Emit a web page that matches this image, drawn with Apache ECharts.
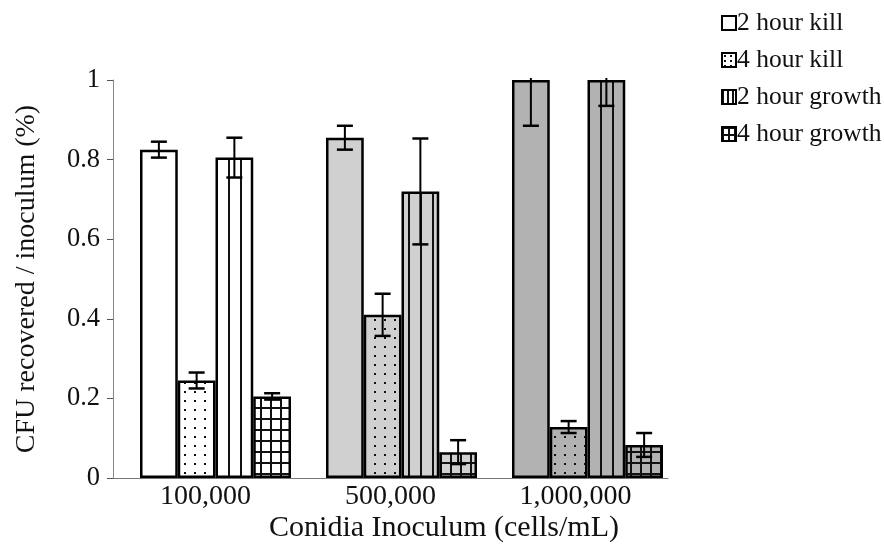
<!DOCTYPE html>
<html>
<head>
<meta charset="utf-8">
<script src="https://cdn.jsdelivr.net/npm/echarts@6/dist/echarts.min.js"></script>
<style>
  html, body { margin: 0; padding: 0; background: #fff; }
  #chart { width: 884px; height: 549px; }
</style>
</head>
<body>
<div id="chart"></div>
<script>
// Inoculum sizes on the category axis
const categories = ['100,000', '500,000', '1,000,000'];

// Fraction of CFU recovered per inoculum, with standard errors
const kill2h = [0.825, 0.855, 1.0];
const kill2hErr = [0.02, 0.03, 0.115];
const kill4h = [0.245, 0.41, 0.128];
const kill4hErr = [0.02, 0.053, 0.015];
const growth2h = [0.805, 0.72, 1.0];
const growth2hErr = [0.05, 0.133, 0.065];
const growth4h = [0.205, 0.065, 0.083];
const growth4hErr = [0.008, 0.03, 0.03];

const seriesNames = ['2 hour kill', '4 hour kill', '2 hour growth', '4 hour growth'];
const yTicks = [0, 0.2, 0.4, 0.6, 0.8, 1];

// Background shade used for each inoculum group
const groupShade = ['#ffffff', '#d0d0d0', '#b2b2b2'];
const FONT = '"Liberation Serif", "DejaVu Serif", serif';
const BAR_W = 37.75;
const BORDER = 2.5;

function pattern(kind, bg, step) {
  if (kind === 'plain') return bg;
  const s = step || 1;
  const c = document.createElement('canvas');
  const ctx = c.getContext('2d');
  if (kind === 'dots') {
    c.width = Math.round(10 * s); c.height = Math.round(9 * s);
    ctx.fillStyle = bg; ctx.fillRect(0, 0, c.width, c.height);
    ctx.fillStyle = '#111';
    ctx.fillRect(Math.round(4 * s), Math.round(4 * s), 2, 2);
  } else if (kind === 'vlines') {
    c.width = Math.round(12 * s); c.height = 4;
    ctx.fillStyle = bg; ctx.fillRect(0, 0, c.width, 4);
    ctx.fillStyle = '#111';
    ctx.fillRect(0, 0, 2, 4);
  } else if (kind === 'grid') {
    c.width = Math.round(10 * s); c.height = Math.round(11 * s);
    ctx.fillStyle = bg; ctx.fillRect(0, 0, c.width, c.height);
    ctx.fillStyle = '#111';
    ctx.fillRect(0, 0, 2, c.height);
    ctx.fillRect(0, 0, c.width, 2);
  }
  return { image: c, repeat: 'repeat' };
}

const kinds = ['plain', 'dots', 'vlines', 'grid'];
const values = [kill2h, kill4h, growth2h, growth4h];
const errors = [kill2hErr, kill4hErr, growth2hErr, growth4hErr];

const barSeries = values.map((vals, si) => ({
  name: seriesNames[si],
  type: 'bar',
  xAxisIndex: 1,
  yAxisIndex: 1,
  barWidth: BAR_W,
  barGap: '0%',
  itemStyle: { color: pattern(kinds[si], '#ffffff'), borderColor: '#000', borderWidth: BORDER },
  data: vals.map((v, ci) => ({
    value: v,
    itemStyle: { color: pattern(kinds[si], groupShade[ci]), borderColor: '#000', borderWidth: BORDER }
  }))
}));

const errSeries = values.map((vals, si) => ({
  type: 'custom',
  name: seriesNames[si] + ' error',
  xAxisIndex: 1,
  yAxisIndex: 1,
  z: 10,
  silent: true,
  data: vals.map((v, ci) => [ci, v, errors[si][ci]]),
  renderItem: function (params, api) {
    const ci = api.value(0), v = api.value(1), e = api.value(2);
    const base = api.coord([ci, v]);
    const x = base[0] + (si - 1.5) * BAR_W;
    const top = params.coordSys.y;
    const yHiRaw = api.coord([ci, v + e])[1];
    const yHi = Math.max(top - 2, yHiRaw);
    const yLo = api.coord([ci, v - e])[1];
    const half = 8;
    const capStyle = { stroke: '#000', lineWidth: 2.5 };
    const children = [
      { type: 'line', shape: { x1: x, y1: yHi, x2: x, y2: yLo }, style: { stroke: '#000', lineWidth: 2 } },
      { type: 'line', shape: { x1: x - half, y1: yLo, x2: x + half, y2: yLo }, style: capStyle }
    ];
    if (yHiRaw >= top - 2) {
      children.push({ type: 'line', shape: { x1: x - half, y1: yHi, x2: x + half, y2: yHi }, style: capStyle });
    }
    return { type: 'group', children: children };
  }
}));

// Legend swatches use a finer version of each fill so the pattern shows in a small box
const legendStep = [1, 0.6, 0.38, 0.6];
const legendData = seriesNames.map((n, si) => ({
  name: n,
  itemStyle: { color: pattern(kinds[si], '#ffffff', legendStep[si]), borderColor: '#000', borderWidth: 2 }
}));

const chart = echarts.init(document.getElementById('chart'));
chart.setOption({
  animation: false,
  backgroundColor: '#fff',
  textStyle: { fontFamily: FONT, color: '#111' },
  title: {
    text: 'Conidia Inoculum (cells/mL)',
    left: 444,
    top: 513,
    textAlign: 'center',
    padding: 0,
    textStyle: { fontFamily: FONT, fontSize: 30, fontWeight: 'normal', color: '#111' }
  },
  legend: {
    data: legendData,
    orient: 'vertical',
    left: 716,
    top: 5,
    icon: 'rect',
    itemWidth: 14,
    itemHeight: 14,
    itemGap: 11,
    textStyle: { fontFamily: FONT, fontSize: 25.5, color: '#111', padding: [0, 0, 0, -4] }
  },
  grid: [
    { left: 113, right: 216, top: 80, bottom: 71, containLabel: false },
    { left: 122.5, right: 203.5, top: 80, bottom: 71, containLabel: false }
  ],
  xAxis: [
    {
      type: 'category',
      gridIndex: 0,
      data: categories,
      axisLine: { lineStyle: { color: '#777', width: 1 } },
      axisTick: { show: false },
      axisLabel: { fontFamily: FONT, fontSize: 28, color: '#111', margin: 5 }
    },
    {
      type: 'category',
      gridIndex: 1,
      data: categories,
      show: false
    }
  ],
  yAxis: [
    {
      type: 'value',
      gridIndex: 0,
      min: yTicks[0],
      max: yTicks[yTicks.length - 1],
      interval: 0.2,
      name: 'CFU recovered / inoculum (%)',
      nameLocation: 'middle',
      nameGap: 72,
      nameTextStyle: { fontFamily: FONT, fontSize: 28, color: '#111' },
      axisLine: { show: true, lineStyle: { color: '#888', width: 1 } },
      axisTick: { show: true, inside: false, length: 6, lineStyle: { color: '#555' } },
      splitLine: { show: false },
      axisLabel: { fontFamily: FONT, fontSize: 26.5, color: '#111', margin: 13 }
    },
    {
      type: 'value',
      gridIndex: 1,
      min: yTicks[0],
      max: yTicks[yTicks.length - 1],
      interval: 0.2,
      show: false,
      splitLine: { show: false }
    }
  ],
  series: barSeries.concat(errSeries)
});
</script>
</body>
</html>
